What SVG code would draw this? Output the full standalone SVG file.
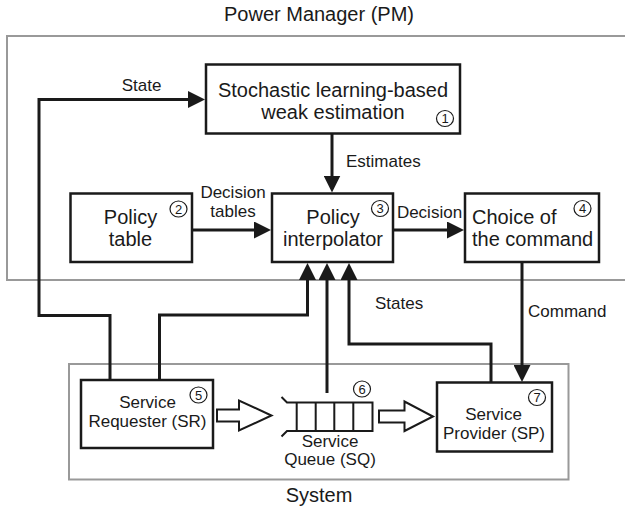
<svg xmlns="http://www.w3.org/2000/svg" width="625" height="511" viewBox="0 0 625 511">
<defs>
<style>
text{font-family:"Liberation Sans",Arial,sans-serif;fill:#1a1a1a}
.t20{font-size:20px}
.t17{font-size:17px}
.num{font-size:13px}
.mid{text-anchor:middle}
.box{fill:#fff;stroke:#1a1a1a;stroke-width:2.5}
.frame{fill:none;stroke:#999;stroke-width:2}
.con{fill:none;stroke:#1a1a1a;stroke-width:3}
.circ{fill:#fff;stroke:#1a1a1a;stroke-width:1.2}
.hollow{fill:#fff;stroke:#1a1a1a;stroke-width:2;stroke-linejoin:miter}
.q{fill:none;stroke:#1a1a1a;stroke-width:2}
</style>
<marker id="ah" markerUnits="userSpaceOnUse" markerWidth="18" markerHeight="17" refX="13" refY="8.5" orient="auto">
<path d="M0,0 L17,8.5 L0,17 Z" fill="#1a1a1a"/>
</marker>
</defs>
<rect width="625" height="511" fill="#fff"/>

<!-- frames -->
<g id="pm-frame">
<rect class="frame" x="7" y="36" width="630" height="244"/>
<text class="t20 mid" x="319" y="21">Power Manager (PM)</text>
</g>
<g id="system-frame">
<rect class="frame" x="69" y="364" width="499.5" height="115.5"/>
<text class="t20 mid" x="319" y="502">System</text>
</g>

<!-- connectors -->
<g id="connectors">
<path class="con" d="M110,380 V315.5 H39 V99.5 H201" marker-end="url(#ah)"/>
<path class="con" d="M332,134 V188.5" marker-end="url(#ah)"/>
<path class="con" d="M192,230 H267" marker-end="url(#ah)"/>
<path class="con" d="M393,230 H460" marker-end="url(#ah)"/>
<path class="con" d="M522,262 V378" marker-end="url(#ah)"/>
<path class="con" d="M159.5,380 V315 H307.5 V267" marker-end="url(#ah)"/>
<path class="con" d="M327,393 V267" marker-end="url(#ah)"/>
<path class="con" d="M491,382.5 V344 H349 V267" marker-end="url(#ah)"/>
<polygon class="hollow" points="217,409.5 239,409.5 239,400.5 271.5,415.5 239,430.5 239,421.5 217,421.5"/>
<polygon class="hollow" points="379,410.5 404.5,410.5 404.5,401.5 433,416.5 404.5,431 404.5,422.5 379,422.5"/>
<text class="t17 mid" x="141.5" y="91">State</text>
<text class="t17" x="346" y="167">Estimates</text>
<text class="t17 mid" x="233" y="198">Decision</text>
<text class="t17 mid" x="233" y="217">tables</text>
<text class="t17 mid" x="429.5" y="218">Decision</text>
<text class="t17" x="375" y="308.5">States</text>
<text class="t17" x="528" y="317">Command</text>
</g>

<!-- nodes -->
<g id="n1">
<rect class="box" x="206" y="64.5" width="254" height="69"/>
<text class="t20 mid" x="333" y="96.5">Stochastic learning-based</text>
<text class="t20 mid" x="333" y="118.5">weak estimation</text>
<ellipse class="circ" cx="445" cy="118.5" rx="8.5" ry="8"/>
<text class="num mid" x="445" y="123">1</text>
</g>
<g id="n2">
<rect class="box" x="70.5" y="193.5" width="121.5" height="68.5"/>
<text class="t20 mid" x="130.5" y="224">Policy</text>
<text class="t20 mid" x="130.5" y="246">table</text>
<ellipse class="circ" cx="178.5" cy="209" rx="8.5" ry="8"/>
<text class="num mid" x="178.5" y="213.5">2</text>
</g>
<g id="n3">
<rect class="box" x="272" y="193.5" width="121" height="68.5"/>
<text class="t20 mid" x="333" y="224">Policy</text>
<text class="t20 mid" x="333" y="246">interpolator</text>
<ellipse class="circ" cx="380" cy="208.5" rx="8.5" ry="8"/>
<text class="num mid" x="380" y="213">3</text>
</g>
<g id="n4">
<rect class="box" x="465" y="193.5" width="134" height="68.5"/>
<text class="t20" x="472" y="224">Choice of</text>
<text class="t20" x="472" y="246">the command</text>
<ellipse class="circ" cx="582.5" cy="208.5" rx="8.5" ry="8"/>
<text class="num mid" x="582.5" y="213">4</text>
</g>
<g id="n5">
<rect class="box" x="81" y="380" width="132" height="68"/>
<text class="t17 mid" x="147.5" y="408">Service</text>
<text class="t17 mid" x="147.5" y="427">Requester (SR)</text>
<ellipse class="circ" cx="198.5" cy="395" rx="8.5" ry="8"/>
<text class="num mid" x="198.5" y="399.5">5</text>
</g>
<g id="n6">
<path class="q" d="M281.5,397 L287,402.5 H372.5 V431 H287 L281.5,436.5"/>
<path class="q" d="M296.7,402.5 V431 M315.7,402.5 V431 M334.3,402.5 V431 M353.3,402.5 V431"/>
<text class="t17 mid" x="330" y="447">Service</text>
<text class="t17 mid" x="330" y="465">Queue (SQ)</text>
<ellipse class="circ" cx="362" cy="389" rx="8.5" ry="8"/>
<text class="num mid" x="362" y="393.5">6</text>
</g>
<g id="n7">
<rect class="box" x="437" y="382.5" width="115" height="69"/>
<text class="t17 mid" x="493.5" y="420">Service</text>
<text class="t17 mid" x="494" y="439">Provider (SP)</text>
<ellipse class="circ" cx="537" cy="397.5" rx="8.5" ry="8"/>
<text class="num mid" x="537" y="402">7</text>
</g>
</svg>
